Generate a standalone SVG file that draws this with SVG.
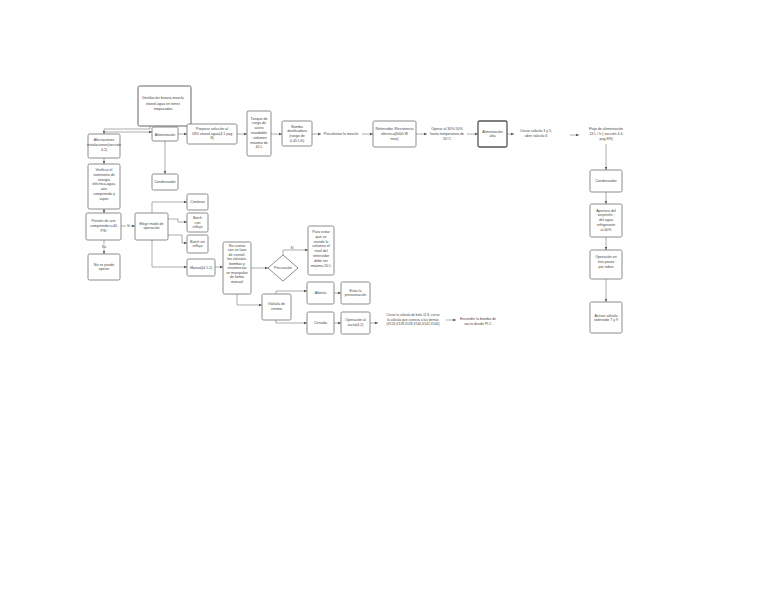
<svg xmlns="http://www.w3.org/2000/svg" width="768" height="594" viewBox="0 0 768 594">
<defs>
<marker id="ah" markerUnits="userSpaceOnUse" markerWidth="4" markerHeight="4" refX="3.5" refY="2" orient="auto"><path d="M0,0.6 L3.5,2 L0,3.4 z" fill="#555"/></marker>
<style>
.b{fill:#fff;stroke:#707070;stroke-width:0.8}
.bd{fill:#fff;stroke:#666;stroke-width:1}
.bb{fill:#fff;stroke:#555;stroke-width:1.3}
.t{font-family:"Liberation Sans",Arial,sans-serif;font-size:3.6px;fill:#444;text-anchor:middle}
.s{font-size:3.3px}
.c{fill:none;stroke:#777;stroke-width:0.6;marker-end:url(#ah)}
.lb{fill:#fff}
</style>
</defs>
<rect width="768" height="594" fill="#fff"/>
<g id="connectors">
<path class="c" d="M150,126 V129 H104 V134"/>
<path class="c" d="M104,132 H152"/>
<path class="c" d="M178,134 H187"/>
<path class="c" d="M165,141 V174"/>
<path class="c" d="M237,134 H247"/>
<path class="c" d="M271,134 H282"/>
<path class="c" d="M312,134 H321"/>
<path class="c" d="M362,134 H373"/>
<path class="c" d="M416,134 H427"/>
<path class="c" d="M467,134 H478"/>
<path class="c" d="M507,134 H514"/>
<path class="c" d="M570,135 H579"/>
<path class="c" d="M606,144 V170"/>
<path class="c" d="M606,192 V204"/>
<path class="c" d="M606,237 V250"/>
<path class="c" d="M606,279 V302"/>
<path class="c" d="M104,158 V164"/>
<path class="c" d="M104,209 V213"/>
<path class="c" d="M104,240 V254"/>
<rect class="lb" x="101" y="244.5" width="6" height="4"/>
<text class="t s" x="104" y="247.8">No</text>
<path class="c" d="M121,226 H135"/>
<rect class="lb" x="126" y="224" width="5" height="4"/>
<text class="t s" x="128.5" y="227.2">Sí</text>
<path class="c" d="M152,213 V202 H187"/>
<path class="c" d="M168,219 H178 V222 H187"/>
<path class="c" d="M168,235 H182 V243 H187"/>
<path class="c" d="M152,240 V267 H187"/>
<path class="c" d="M215,267 H223"/>
<path class="c" d="M251,268 H268"/>
<path class="c" d="M283,255 V250 H308"/>
<text class="t s" x="292" y="249">Sí</text>
<path class="c" d="M237,294 V305 H262"/>
<path class="c" d="M276,294 V291 H307"/>
<path class="c" d="M276,320 V323 H307"/>
<path class="c" d="M334,293 H341"/>
<path class="c" d="M334,323 H341"/>
<path class="c" d="M370,323 H378"/>
<path class="c" d="M446,320 H456"/>
</g>
<g id="n_destilacion"><rect class="bd" x="138" y="86" width="53" height="40" rx="1.5"/>
<text class="t"><tspan x="163" y="99">Destilación binaria mezcla</tspan><tspan x="163" y="104.5">etanol-agua en torres</tspan><tspan x="163" y="110">empacadas</tspan></text></g>
<g id="n_afectaciones"><rect class="b" x="88" y="134" width="32" height="24" rx="1.5"/>
<text class="t"><tspan x="104" y="141">Afectaciones</tspan><tspan x="104" y="146">instalaciones(sección</tspan><tspan x="104" y="151">4.2)</tspan></text></g>
<g id="n_alimentacion"><rect class="b" x="152" y="127" width="26" height="14" rx="1.5"/>
<text class="t" x="165" y="135.5">Alimentación</text></g>
<g id="n_preparar"><rect class="b" x="187" y="124" width="50" height="20" rx="1.5"/>
<text class="t"><tspan x="212" y="130">Preparar solución al</tspan><tspan x="212" y="134.6">18% etanol-agua(4.1 pag</tspan><tspan x="212" y="139.2">8)</tspan></text></g>
<g id="n_tanque"><rect class="b" x="247" y="111" width="24" height="45" rx="1.5"/>
<text class="t"><tspan x="259" y="119.5">Tanque de</tspan><tspan x="259" y="124.3">carga de</tspan><tspan x="259" y="129.1">acero</tspan><tspan x="259" y="133.9">inoxidable</tspan><tspan x="259" y="138.7">, volumen</tspan><tspan x="259" y="143.5">máximo de</tspan><tspan x="259" y="148.3">40 L</tspan></text></g>
<g id="n_bomba"><rect class="b" x="282" y="121" width="30" height="25" rx="1.5"/>
<text class="t"><tspan x="297" y="127.5">Bomba</tspan><tspan x="297" y="132.3">dosificadora</tspan><tspan x="297" y="137.1">(rango de</tspan><tspan x="297" y="141.9">0-45 L/h)</tspan></text></g>
<g id="n_precalentar"><text class="t" x="341" y="135.2">Precalentar la mezcla</text></g>
<g id="n_rehervidor"><rect class="b" x="373" y="121" width="43" height="26" rx="1.5"/>
<text class="t"><tspan x="394.5" y="130">Rehervidor /Resistencia</tspan><tspan x="394.5" y="134.8">eléctrica(6000 W</tspan><tspan x="394.5" y="139.6">max)</tspan></text></g>
<g id="n_operar"><text class="t"><tspan x="447" y="130">Operar al 30%-50%</tspan><tspan x="447" y="134.8">hasta temperatura de</tspan><tspan x="447" y="139.6">50°C</tspan></text></g>
<g id="n_alim_alta"><rect class="bb" x="478" y="121" width="29" height="26" rx="1.5"/>
<text class="t"><tspan x="492.5" y="132.5">Alimentación</tspan><tspan x="492.5" y="137.3">alta</tspan></text></g>
<g id="n_cerrar35"><text class="t"><tspan x="536" y="132">Cerrar válvula 3 y 5,</tspan><tspan x="536" y="136.8">abrir válvula 6</tspan></text></g>
<g id="n_flujo"><text class="t"><tspan x="606" y="130">Flujo de alimentación</tspan><tspan x="606" y="134.8">13 L / h ( sección 4.4</tspan><tspan x="606" y="139.6">pag 8/9)</tspan></text></g>
<g id="n_condensador_r"><rect class="b" x="590" y="170" width="32" height="22" rx="1.5"/>
<text class="t" x="606" y="182.4">Condensador</text></g>
<g id="n_apertura"><rect class="b" x="590" y="204" width="32" height="33" rx="1.5"/>
<text class="t"><tspan x="606" y="211.5">Apertura del</tspan><tspan x="606" y="216.3">serpentín ,</tspan><tspan x="606" y="221.1">del agua</tspan><tspan x="606" y="225.9">refrigerante</tspan><tspan x="606" y="230.7">al 40%</tspan></text></g>
<g id="n_tres_pasos"><rect class="b" x="590" y="250" width="32" height="29" rx="1.5"/>
<text class="t"><tspan x="606" y="258">Operación en</tspan><tspan x="606" y="262.8">tres pasos</tspan><tspan x="606" y="267.6">por tubos</tspan></text></g>
<g id="n_activar"><rect class="b" x="590" y="302" width="32" height="31" rx="1.5"/>
<text class="t"><tspan x="606" y="316.5">Activar válvula</tspan><tspan x="606" y="321.3">solenoide 7 y 9</tspan></text></g>
<g id="n_condensador_l"><rect class="b" x="152" y="174" width="26" height="16" rx="1.5"/>
<text class="t" x="165" y="183.4">Condensador</text></g>
<g id="n_verificar"><rect class="b" x="88" y="164" width="32" height="45" rx="1.5"/>
<text class="t"><tspan x="104" y="171">Verificar el</tspan><tspan x="104" y="175.8">suministro de</tspan><tspan x="104" y="180.6">energía</tspan><tspan x="104" y="185.4">eléctrica,agua,</tspan><tspan x="104" y="190.2">aire</tspan><tspan x="104" y="195">comprimido y</tspan><tspan x="104" y="199.8">vapor</tspan></text></g>
<g id="n_presion"><rect class="b" x="86" y="213" width="35" height="27" rx="1.5"/>
<text class="t"><tspan x="103.5" y="222">Presión de aire</tspan><tspan x="103.5" y="226.8">comprimido&gt;=40</tspan><tspan x="103.5" y="231.6">PSI</tspan></text></g>
<g id="n_no_operar"><rect class="b" x="88" y="254" width="32" height="26" rx="1.5"/>
<text class="t"><tspan x="104" y="265.5">No se puede</tspan><tspan x="104" y="270.3">operar</tspan></text></g>
<g id="n_elegir"><rect class="b" x="135" y="213" width="33" height="27" rx="1.5"/>
<text class="t"><tspan x="151.5" y="224.5">Elegir modo de</tspan><tspan x="151.5" y="229.3">operación</tspan></text></g>
<g id="n_continuo"><rect class="b" x="187" y="194" width="21" height="16" rx="1.5"/>
<text class="t" x="197.5" y="203.4">Continuo</text></g>
<g id="n_batch_con"><rect class="b" x="187" y="213" width="21" height="19" rx="1.5"/>
<text class="t"><tspan x="197.5" y="218.8">Batch</tspan><tspan x="197.5" y="223.6">con</tspan><tspan x="197.5" y="228.4">reflujo</tspan></text></g>
<g id="n_batch_sin"><rect class="b" x="187" y="235" width="21" height="18" rx="1.5"/>
<text class="t"><tspan x="197.5" y="242.5">Batch sin</tspan><tspan x="197.5" y="247.3">reflujo</tspan></text></g>
<g id="n_manual"><rect class="b" x="187" y="259" width="28" height="17" rx="1.5"/>
<text class="t" x="201" y="268.9">Manual(4.1.1)</text></g>
<g id="n_no_cuenta"><rect class="b" x="223" y="242" width="28" height="52" rx="1.5"/>
<text class="t"><tspan x="237" y="246.8">No cuenta</tspan><tspan x="237" y="251.3">con un lazo</tspan><tspan x="237" y="255.8">de control,</tspan><tspan x="237" y="260.3">las válvulas,</tspan><tspan x="237" y="264.8">bombas y</tspan><tspan x="237" y="269.3">resistencias</tspan><tspan x="237" y="273.8">se manipulan</tspan><tspan x="237" y="278.3">de forma</tspan><tspan x="237" y="282.8">manual</tspan></text></g>
<g id="n_precaucion"><polygon class="b" points="283,255 298,268 283,281 268,268"/>
<text class="t" x="283" y="269.3">Precaución</text></g>
<g id="n_para_evitar"><rect class="b" x="308" y="226" width="26" height="49" rx="1.5"/>
<text class="t"><tspan x="321" y="233">Para evitar</tspan><tspan x="321" y="237.8">que se</tspan><tspan x="321" y="242.6">inunde la</tspan><tspan x="321" y="247.4">columna el</tspan><tspan x="321" y="252.2">nivel del</tspan><tspan x="321" y="257">rehervidor</tspan><tspan x="321" y="261.8">debe ser</tspan><tspan x="321" y="266.6">máximo 20 L</tspan></text></g>
<g id="n_abierta"><rect class="b" x="307" y="282" width="27" height="22" rx="1.5"/>
<text class="t" x="320.5" y="294.4">Abierta</text></g>
<g id="n_evita"><rect class="b" x="341" y="282" width="29" height="22" rx="1.5"/>
<text class="t"><tspan x="355.5" y="291.5">Evita la</tspan><tspan x="355.5" y="296.3">presurización</tspan></text></g>
<g id="n_valvula"><rect class="b" x="262" y="294" width="29" height="26" rx="1.5"/>
<text class="t"><tspan x="276.5" y="305">Válvula de</tspan><tspan x="276.5" y="309.8">venteo</tspan></text></g>
<g id="n_cerrada"><rect class="b" x="307" y="312" width="27" height="22" rx="1.5"/>
<text class="t" x="320.5" y="324.4">Cerrada</text></g>
<g id="n_vacio"><rect class="b" x="341" y="312" width="29" height="22" rx="1.5"/>
<text class="t"><tspan x="355.5" y="321">Operación al</tspan><tspan x="355.5" y="325.8">vacío(4.2)</tspan></text></g>
<g id="n_cerrar_bola"><text class="t s"><tspan x="413" y="316">Cerrar la válvula de bola 11,8, cerrar</tspan><tspan x="413" y="320.5">la válvula que conecta a las demás</tspan><tspan x="413" y="325">(V120,V128,V138,V140,V142,V144)</tspan></text></g>
<g id="n_encender"><text class="t"><tspan x="478" y="320">Encender la bomba de</tspan><tspan x="478" y="324.8">vacío desde PLC</tspan></text></g>
</svg>
